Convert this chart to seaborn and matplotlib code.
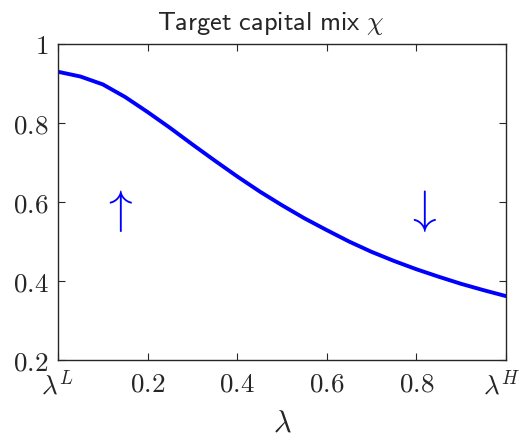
import matplotlib
matplotlib.use("Agg")
import matplotlib.pyplot as plt
import matplotlib.transforms as mtransforms
import seaborn as sns
import pandas as pd

lam = [0.0, 0.05, 0.1, 0.15, 0.2, 0.25, 0.3, 0.35, 0.4, 0.45, 0.5,
       0.55, 0.6, 0.65, 0.7, 0.75, 0.8, 0.85, 0.9, 0.95, 1.0]
chi = [0.930, 0.918, 0.898, 0.866, 0.828, 0.788, 0.746, 0.705, 0.665, 0.627, 0.592,
       0.559, 0.529, 0.500, 0.474, 0.451, 0.430, 0.411, 0.393, 0.377, 0.362]
xticks = [0.0, 0.2, 0.4, 0.6, 0.8, 1.0]
xticklabels = [r"$\lambda^L$", r"$0.2$", r"$0.4$", r"$0.6$", r"$0.8$", r"$\lambda^H$"]
yticks = [0.2, 0.4, 0.6, 0.8, 1.0]
yticklabels = [r"$0.2$", r"$0.4$", r"$0.6$", r"$0.8$", r"$1$"]

sns.set_style("ticks")
plt.rcParams["font.family"] = ["DejaVu Sans"]
plt.rcParams["mathtext.fontset"] = "cm"

df = pd.DataFrame({"lam": lam, "chi": chi})

fig = plt.figure(figsize=(5.23, 4.37), dpi=100)
ax = fig.add_axes([0.111, 0.176, 0.8565, 0.723])
sns.lineplot(data=df, x="lam", y="chi", ax=ax, color="#0000ff", linewidth=2.8)

ax.set_xlim(0, 1)
ax.set_ylim(0.2, 1)
ax.set_xticks(xticks)
ax.set_xticklabels(xticklabels)
ax.set_yticks(yticks)
ax.set_yticklabels(yticklabels)
ax.tick_params(direction="in", length=5, width=0.8, labelsize=19.5, color="#262626",
               top=True, right=True)
ax.tick_params(axis="x", pad=8)
ax.tick_params(axis="y", pad=7)
for s in ax.spines.values():
    s.set_visible(True)
    s.set_linewidth(1.0)
    s.set_color("#262626")

# nudge the last x tick label slightly inward so it stays inside the figure
last = ax.get_xticklabels()[-1]
last.set_transform(last.get_transform() +
                   mtransforms.ScaledTranslation(-4 / 100, 0, fig.dpi_scale_trans))

ax.set_xlabel(r"$\lambda$", fontsize=22, labelpad=6)
ax.set_ylabel("")
ax.set_title(r"$\mathsf{Target\ capital\ mix}\ \chi$", fontsize=19, pad=10, x=0.475)

ax.text(0.131, 0.578, r"$\uparrow$", color="#0000ff", fontsize=34, ha="center", va="center")
ax.text(0.809, 0.578, r"$\downarrow$", color="#0000ff", fontsize=34, ha="center", va="center")

fig.savefig("out.png", dpi=100)
